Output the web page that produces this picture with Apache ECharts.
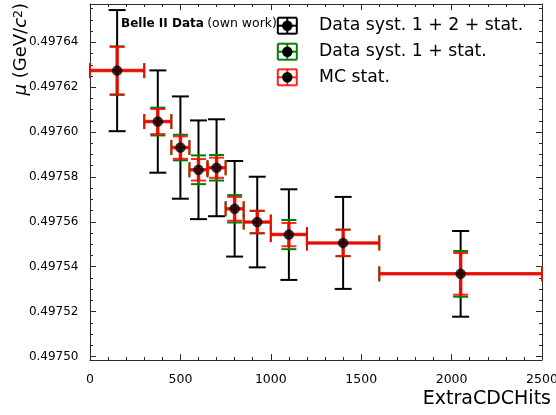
<!DOCTYPE html>
<html>
<head>
<meta charset="utf-8">
<script src="https://cdn.jsdelivr.net/npm/echarts@6/dist/echarts.min.js"></script>
<style>
  html, body { margin: 0; padding: 0; background: #ffffff; }
  #chart { width: 556px; height: 415px; }
</style>
</head>
<body>
<div id="chart"></div>
<script>
// ExtraCDCHits bins
const binLow    = [0, 300, 450, 550, 650, 750, 850, 1000, 1200, 1600];
const binHigh   = [300, 450, 550, 650, 750, 850, 1000, 1200, 1600, 2500];
const binCenter = [150, 375, 500, 600, 700, 800, 925, 1100, 1400, 2050];

// fitted mean mu (GeV/c^2) per bin
const muValues = [0.4976274, 0.4976047, 0.4975931, 0.4975832, 0.4975841,
                  0.4975658, 0.4975599, 0.4975543, 0.4975506, 0.4975368];

// uncertainties (GeV/c^2)
const errSyst12Stat = [0.0000270, 0.0000228, 0.0000228, 0.0000220, 0.0000216,
                       0.0000213, 0.0000202, 0.0000202, 0.0000205, 0.0000191];
const errSyst1Stat  = [0.0000108, 0.0000062, 0.0000057, 0.0000064, 0.0000057,
                       0.0000061, 0.0000050, 0.0000065, 0.0000059, 0.0000102];
const errMCStat     = [0.0000106, 0.0000056, 0.0000050, 0.0000048, 0.0000045,
                       0.0000053, 0.0000050, 0.0000052, 0.0000059, 0.0000093];

const seriesNames = ['Data syst. 1 + 2 + stat.', 'Data syst. 1 + stat.', 'MC stat.'];

// axis ticks
const yTickValues = [0.49750, 0.49752, 0.49754, 0.49756, 0.49758, 0.49760, 0.49762, 0.49764];
const yMin = 0.4974984, yMax = 0.4976571;
const yMinorStep = 0.000005;
const yMinorValues = [];
for (let v = 0.49750; v <= yMax + 1e-12; v += yMinorStep) {
  yMinorValues.push(+v.toFixed(7));
}
const xMin = 0, xMax = 2500, xStep = 500;

const FONT = 'DejaVu Sans';
const AXIS_COLOR = '#2b2b2b';

const chart = echarts.init(document.getElementById('chart'), null, { renderer: 'canvas' });

function errorBarSeries(name, errs, opt) {
  const data = binCenter.map((x, i) => [x, muValues[i], errs[i], binLow[i], binHigh[i]]);
  return {
    type: 'custom',
    name: name,
    silent: true,
    z: opt.z,
    data: data,
    encode: { x: 0, y: 1 },
    renderItem: function (params, api) {
      const x = api.value(0), y = api.value(1), e = api.value(2);
      const c = api.coord([x, y]);
      const t = api.coord([x, y + e]);
      const b = api.coord([x, y - e]);
      const barStyle = { stroke: opt.color, lineWidth: opt.barWidth, fill: null };
      const capStyle = { stroke: opt.color, lineWidth: opt.capWidth, fill: null };
      const kids = [];
      if (opt.xerr) {
        const l = api.coord([api.value(3), y]);
        const r = api.coord([api.value(4), y]);
        kids.push({ type: 'line', shape: { x1: l[0], y1: c[1], x2: r[0], y2: c[1] }, style: barStyle });
        kids.push({ type: 'line', shape: { x1: l[0], y1: c[1] - opt.cap, x2: l[0], y2: c[1] + opt.cap }, style: capStyle });
        kids.push({ type: 'line', shape: { x1: r[0], y1: c[1] - opt.cap, x2: r[0], y2: c[1] + opt.cap }, style: capStyle });
      }
      kids.push({ type: 'line', shape: { x1: c[0], y1: t[1], x2: c[0], y2: b[1] }, style: barStyle });
      kids.push({ type: 'line', shape: { x1: c[0] - opt.cap, y1: t[1], x2: c[0] + opt.cap, y2: t[1] }, style: capStyle });
      kids.push({ type: 'line', shape: { x1: c[0] - opt.cap, y1: b[1], x2: c[0] + opt.cap, y2: b[1] }, style: capStyle });
      return { type: 'group', children: kids };
    }
  };
}

const styles = [
  { color: '#000000', barWidth: 2, capWidth: 2, cap: 8.5, xerr: false, z: 2 },
  { color: '#008000', barWidth: 2, capWidth: 2, cap: 7.5, xerr: true, z: 3 },
  { color: 'rgba(255,0,0,0.85)', barWidth: 3.5, capWidth: 2, cap: 7.5, xerr: true, z: 4 }
];
const errSets = [errSyst12Stat, errSyst1Stat, errMCStat];

// legend entries drawn as graphic groups
function legendIcon(cx, cy, color) {
  const hw = 9.5, hh = 8;
  const st = { stroke: color, lineWidth: 2, fill: null };
  return {
    type: 'group',
    children: [
      { type: 'line', shape: { x1: cx - hw, y1: cy, x2: cx + hw, y2: cy }, style: st },
      { type: 'line', shape: { x1: cx - hw, y1: cy - hh, x2: cx - hw, y2: cy + hh }, style: st },
      { type: 'line', shape: { x1: cx + hw, y1: cy - hh, x2: cx + hw, y2: cy + hh }, style: st },
      { type: 'line', shape: { x1: cx, y1: cy - hh, x2: cx, y2: cy + hh }, style: st },
      { type: 'line', shape: { x1: cx - hw, y1: cy - hh, x2: cx + hw, y2: cy - hh }, style: st },
      { type: 'line', shape: { x1: cx - hw, y1: cy + hh, x2: cx + hw, y2: cy + hh }, style: st },
      { type: 'circle', shape: { cx: cx, cy: cy, r: 5.2 }, style: { fill: '#000' } }
    ]
  };
}
const legendY = [25.7, 51.7, 77.3];
const legendGraphics = [];
seriesNames.forEach((n, i) => {
  legendGraphics.push(legendIcon(287.3, legendY[i], styles[i].color));
  legendGraphics.push({
    type: 'text', x: 319, y: legendY[i],
    style: { text: n, font: '17.3px "DejaVu Sans"', fill: '#000', align: 'left', verticalAlign: 'middle' }
  });
});

const majorTick = { show: true, inside: true, length: 6, lineStyle: { color: AXIS_COLOR, width: 1 } };
const minorTickStyle = { show: true, inside: true, length: 3, lineStyle: { color: AXIS_COLOR, width: 1 } };

function xAxisDef(pos, withLabels) {
  return {
    type: 'value', position: pos, min: xMin, max: xMax, interval: xStep,
    axisLine: { show: true, onZero: false, lineStyle: { color: AXIS_COLOR, width: 1 } },
    axisTick: majorTick,
    minorTick: Object.assign({ splitNumber: 5 }, minorTickStyle),
    splitLine: { show: false }, minorSplitLine: { show: false },
    axisLabel: withLabels
      ? { show: true, margin: 13, color: '#000', fontFamily: FONT, fontSize: 12.5, formatter: v => String(v),
          hideOverlap: false, showMinLabel: true, showMaxLabel: true }
      : { show: false }
  };
}
function yAxisDef(pos, tickVals, tickLen, withLabels, withLine) {
  return {
    type: 'value', position: pos, min: yMin, max: yMax,
    axisLine: { show: withLine, onZero: false, lineStyle: { color: AXIS_COLOR, width: 1 } },
    axisTick: { show: true, inside: true, length: tickLen, customValues: tickVals,
                lineStyle: { color: AXIS_COLOR, width: 1 } },
    splitLine: { show: false },
    axisLabel: withLabels
      ? { show: true, customValues: yTickValues, margin: 11.5, color: '#000', fontFamily: FONT, fontSize: 12,
          formatter: v => v.toFixed(5) }
      : { show: false }
  };
}

const option = {
  backgroundColor: '#ffffff',
  animation: false,
  grid: { left: 90, right: 14, top: 4, bottom: 55, containLabel: false, outerBoundsMode: 'none' },
  xAxis: [xAxisDef('bottom', true), xAxisDef('top', false)],
  yAxis: [
    yAxisDef('left', yTickValues, 6, true, true),
    yAxisDef('right', yTickValues, 6, false, true),
    yAxisDef('left', yMinorValues, 3, false, false),
    yAxisDef('right', yMinorValues, 3, false, false)
  ],
  series: [
    errorBarSeries(seriesNames[0], errSets[0], styles[0]),
    errorBarSeries(seriesNames[1], errSets[1], styles[1]),
    errorBarSeries(seriesNames[2], errSets[2], styles[2]),
    {
      type: 'scatter', name: 'mu', silent: true, z: 10,
      symbol: 'circle', symbolSize: 10.5,
      itemStyle: { color: '#000000' },
      data: binCenter.map((x, i) => [x, muValues[i]])
    }
  ],
  graphic: [
    {
      type: 'text', x: 121, y: 23.5,
      style: {
        text: '{b|Belle II Data} {n|(own work)}',
        verticalAlign: 'middle', align: 'left',
        rich: {
          b: { fontFamily: FONT, fontWeight: 'bold', fontSize: 12, fill: '#000' },
          n: { fontFamily: FONT, fontSize: 12.5, fill: '#000' }
        }
      }
    },
    {
      type: 'text', x: 551, y: 399.5,
      style: { text: 'ExtraCDCHits', font: '19px "DejaVu Sans"', fill: '#000', align: 'right', verticalAlign: 'middle' }
    },
    {
      type: 'text', x: 21.5, y: 3, rotation: Math.PI / 2,
      style: {
        text: '{i|μ} (GeV/{i|c}{s|2})',
        align: 'right', verticalAlign: 'middle',
        fontFamily: FONT, fontSize: 18, fill: '#000',
        rich: {
          i: { fontFamily: FONT, fontStyle: 'italic', fontSize: 18, fill: '#000' },
          s: { fontFamily: FONT, fontSize: 12.5, fill: '#000', verticalAlign: 'top' }
        }
      }
    }
  ].concat(legendGraphics)
};

chart.setOption(option);
</script>
</body>
</html>
